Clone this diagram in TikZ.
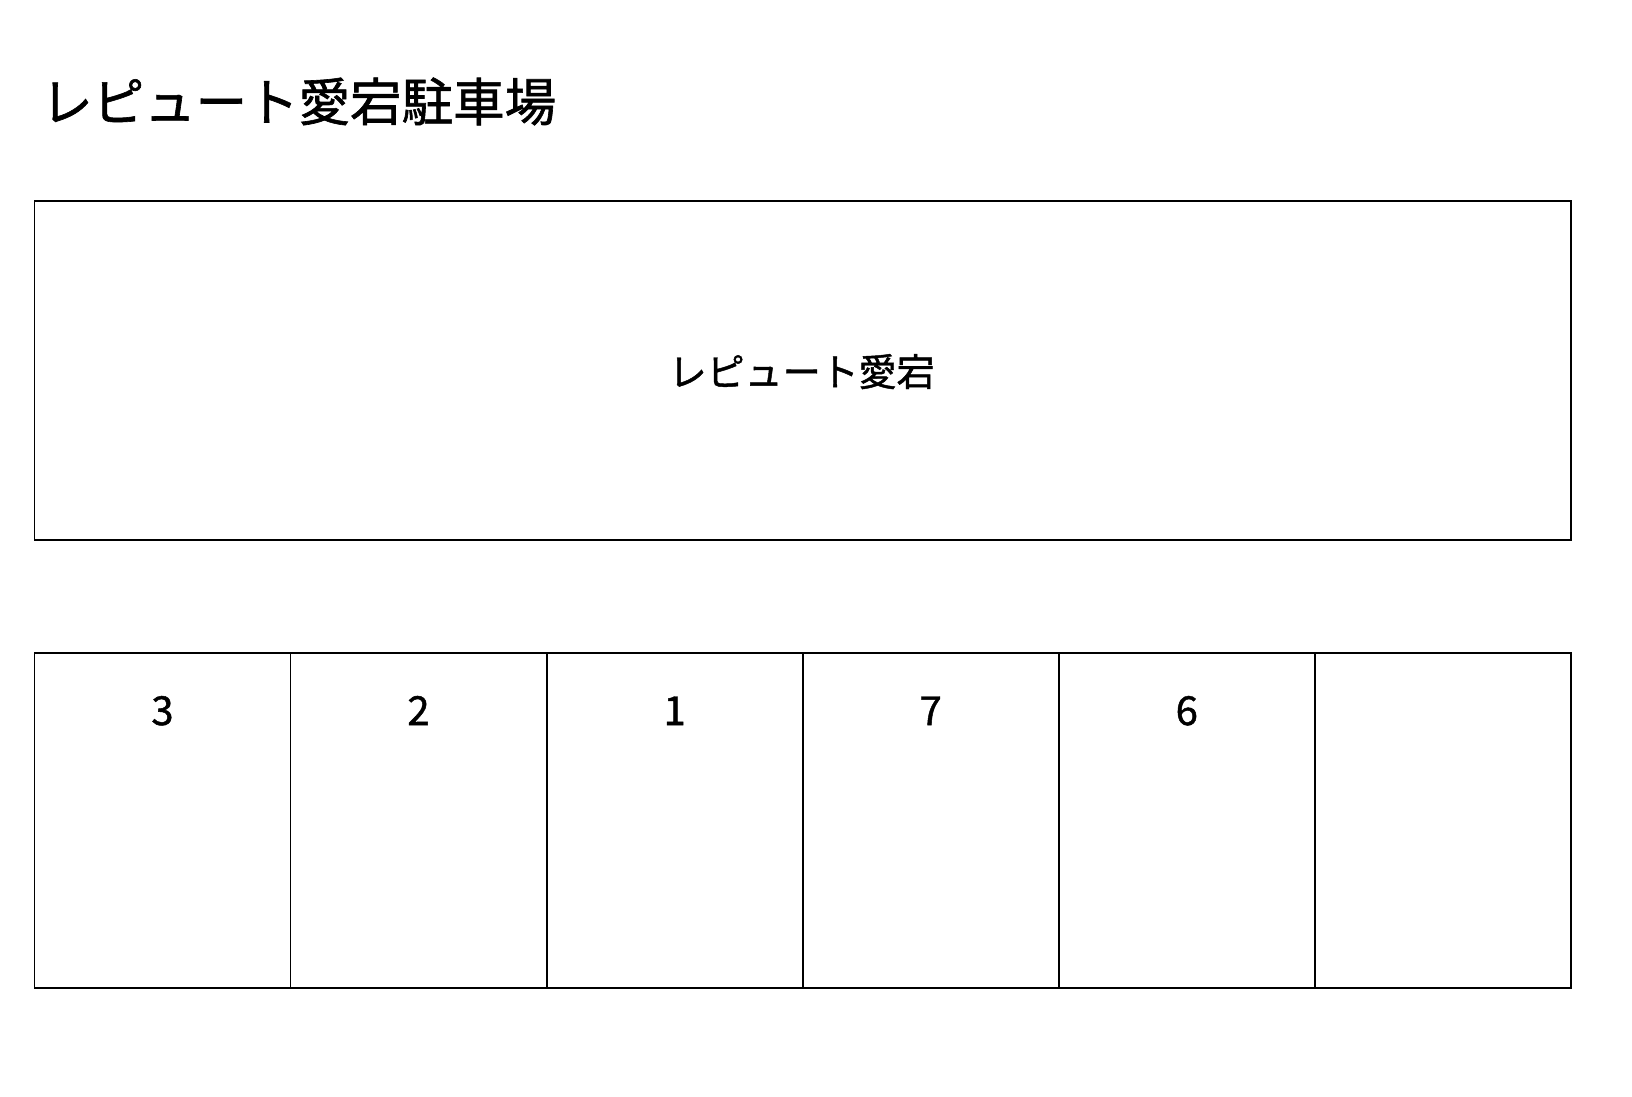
\documentclass[tikz,border=0pt]{standalone}
\usepackage{fontspec}
\newfontfamily\cjk[FakeBold=1.2]{Noto Sans CJK JP}
\tikzset{
  box/.style={draw=black, line width=1.8pt, rectangle, inner sep=0pt},
  cell/.style={box, minimum width=256.1pt, minimum height=335pt},
  num/.style={inner sep=0pt, anchor=base, font=\cjk\fontsize{40}{44}\selectfont},
}
\begin{document}
\begin{tikzpicture}[x=1pt,y=-1pt]
\useasboundingbox (0,0) rectangle (1632,1096);
\fill[white] (0,0) rectangle (1632,1096);
\node[inner sep=0pt, anchor=base west, font=\cjk\fontsize{51.5}{56}\selectfont] (title) at (41,121) {レピュート愛宕駐車場};
\node[box, minimum width=1536.6pt, minimum height=339pt] (bldg) at (802.7,370.5) {};
\node[inner sep=0pt, anchor=base, font=\cjk\fontsize{38}{42}\selectfont] (bname) at (801.7,386) {レピュート愛宕};
\foreach \i/\t in {0/3,1/2,2/1,3/7,4/6,5/{}} {
  \node[cell] (c\i) at ({34.4+128.05+256.1*\i},820.5) {};
  \node[num] (n\i) at ({34.4+128.05+256.1*\i},725) {\t};
}
\end{tikzpicture}
\end{document}
